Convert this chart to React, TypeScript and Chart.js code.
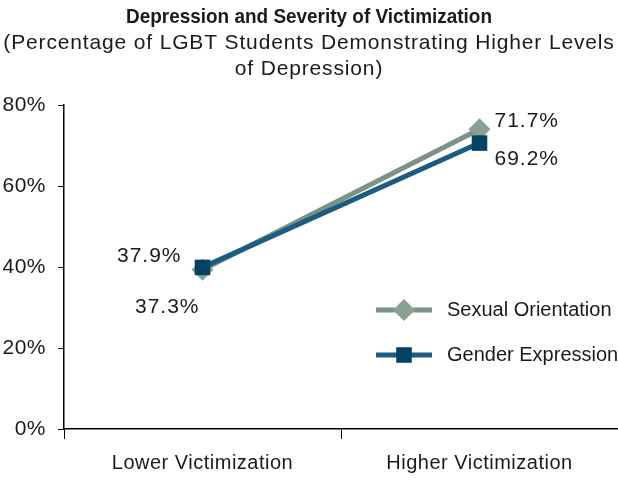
import React, { useEffect, useRef } from "react";
import { Chart, registerables } from "chart.js";

Chart.register(...registerables);

const categories = ["Lower Victimization", "Higher Victimization"];
const seriesNames = ["Sexual Orientation", "Gender Expression"];
const sexualOrientation = [39.3, 74.0];
const genderExpression = [39.9, 70.6];
const sexualLabels = ["37.3%", "71.7%"];
const genderLabels = ["37.9%", "69.2%"];
const yTickValues = [0, 20, 40, 60, 80];
const titleText = "Depression and Severity of Victimization";
const subtitleLines = [
  "(Percentage of LGBT Students Demonstrating Higher Levels",
  "of Depression)",
];

const COLORS = {
  soLine: "#7a9386",
  soPoint: "#8aa094",
  geLine: "#1b5c80",
  gePoint: "#044263",
  text: "#1a1a1a",
};
const FONT = "'Liberation Sans', Arial, sans-serif";

// label placement styling per dataset / point
const labelStyle = [
  [
    { dx: -3, dy: 37, align: "right" },
    { dx: 15, dy: -8, align: "left" },
  ],
  [
    { dx: -21, dy: -11, align: "right" },
    { dx: 15, dy: 16, align: "left" },
  ],
];

const spacingPlugin = {
  id: "spacing",
  beforeDraw(chart: any) {
    chart.ctx.letterSpacing = "0.5px";
  },
  afterDraw(chart: any) {
    chart.ctx.letterSpacing = "0px";
  },
};

const titlePlugin = {
  id: "customTitle",
  afterDraw(chart: any) {
    const { ctx, width } = chart;
    ctx.save();
    ctx.fillStyle = COLORS.text;
    ctx.textAlign = "center";
    ctx.textBaseline = "middle";
    ctx.letterSpacing = "0px";
    ctx.font = `bold 21px ${FONT}`;
    const w = ctx.measureText(titleText).width;
    const sx = 366 / w;
    ctx.save();
    ctx.translate(width / 2, 17);
    ctx.scale(sx, 1);
    ctx.fillText(titleText, 0, 0);
    ctx.restore();
    ctx.letterSpacing = "0.85px";
    ctx.font = `21px ${FONT}`;
    ctx.fillText(subtitleLines[0], width / 2, 43);
    ctx.fillText(subtitleLines[1], width / 2, 69);
    ctx.restore();
  },
};

const dataLabelPlugin = {
  id: "dataLabels",
  afterDatasetsDraw(chart: any) {
    const { ctx } = chart;
    const labelSets = [sexualLabels, genderLabels];
    ctx.save();
    ctx.font = `21px ${FONT}`;
    ctx.letterSpacing = "1px";
    ctx.fillStyle = COLORS.text;
    ctx.textBaseline = "middle";
    chart.data.datasets.forEach((_ds: any, di: number) => {
      const meta = chart.getDatasetMeta(di);
      meta.data.forEach((pt: any, i: number) => {
        const st = labelStyle[di][i];
        ctx.textAlign = st.align;
        ctx.fillText(labelSets[di][i], pt.x + st.dx, pt.y + st.dy);
      });
    });
    ctx.restore();
  },
};

const legendPlugin = {
  id: "customLegend",
  afterDraw(chart: any) {
    const { ctx } = chart;
    const rows = [310, 355];
    ctx.save();
    chart.data.datasets.forEach((ds: any, di: number) => {
      const y = rows[di];
      ctx.strokeStyle = ds.borderColor;
      ctx.lineWidth = 5;
      ctx.beginPath();
      ctx.moveTo(376, y);
      ctx.lineTo(432, y);
      ctx.stroke();
      ctx.fillStyle = ds.pointBackgroundColor;
      ctx.beginPath();
      const r = 11;
      if (ds.pointStyle === "rectRot") {
        ctx.moveTo(404 - r, y);
        ctx.lineTo(404, y - r);
        ctx.lineTo(404 + r, y);
        ctx.lineTo(404, y + r);
        ctx.closePath();
      } else {
        const s = Math.SQRT1_2 * r;
        ctx.rect(404 - s, y - s, 2 * s, 2 * s);
      }
      ctx.fill();
      ctx.fillStyle = COLORS.text;
      ctx.font = `20px ${FONT}`;
      ctx.letterSpacing = "0px";
      ctx.textAlign = "left";
      ctx.textBaseline = "middle";
      ctx.fillText(ds.label, 447, y);
    });
    ctx.restore();
  },
};

export default function App() {
  const ref = useRef<HTMLCanvasElement | null>(null);
  useEffect(() => {
    if (!ref.current) return;
    const chart = new Chart(ref.current, {
      type: "line",
      data: {
        labels: categories,
        datasets: [
          {
            label: seriesNames[0],
            data: sexualOrientation,
            borderColor: COLORS.soLine,
            backgroundColor: COLORS.soLine,
            pointBackgroundColor: COLORS.soPoint,
            pointBorderColor: COLORS.soPoint,
            pointBorderWidth: 0,
            pointStyle: "rectRot",
            pointRadius: 11,
            borderWidth: 5,
            order: 1,
          },
          {
            label: seriesNames[1],
            data: genderExpression,
            borderColor: COLORS.geLine,
            backgroundColor: COLORS.geLine,
            pointBackgroundColor: COLORS.gePoint,
            pointBorderColor: COLORS.gePoint,
            pointBorderWidth: 0,
            pointStyle: "rect",
            pointRadius: 11,
            borderWidth: 5,
            order: 0,
          },
        ],
      },
      options: {
        responsive: false,
        animation: false,
        layout: {
          autoPadding: false,
          padding: { top: 105, right: -4, left: 0, bottom: 0 },
        },
        plugins: {
          legend: { display: false },
          title: { display: false },
          tooltip: { enabled: false },
        },
        scales: {
          y: {
            min: 0,
            max: 80,
            afterBuildTicks: (s: any) => {
              s.ticks = yTickValues.map((v) => ({ value: v }));
            },
            ticks: {
              padding: 12,
              color: COLORS.text,
              font: { family: FONT, size: 21 },
              callback: (v: any) => v + "%",
            },
            grid: {
              drawOnChartArea: false,
              drawTicks: true,
              tickLength: 6,
              color: "#000",
              lineWidth: 1,
            },
            border: { display: true, color: "#000", width: 1.5 },
            afterFit: (s: any) => {
              s.width = 64;
              s.paddingTop = 0;
              s.paddingBottom = 0;
            },
          },
          x: {
            offset: true,
            ticks: {
              padding: 12,
              color: COLORS.text,
              font: { family: FONT, size: 20 },
            },
            grid: {
              offset: true,
              drawOnChartArea: false,
              drawTicks: true,
              tickLength: 10,
              color: "#000",
              lineWidth: 1,
            },
            border: { display: true, color: "#000", width: 1.5 },
            afterFit: (s: any) => {
              s.height = 55;
              s.paddingLeft = 0;
              s.paddingRight = 0;
            },
          },
        },
      },
      plugins: [spacingPlugin, titlePlugin, dataLabelPlugin, legendPlugin],
    } as any);
    return () => chart.destroy();
  }, []);
  return (
    <div style={{ position: "absolute", left: 0, top: 0 }}>
      <canvas ref={ref} width={618} height={484} style={{ display: "block" }} />
    </div>
  );
}
